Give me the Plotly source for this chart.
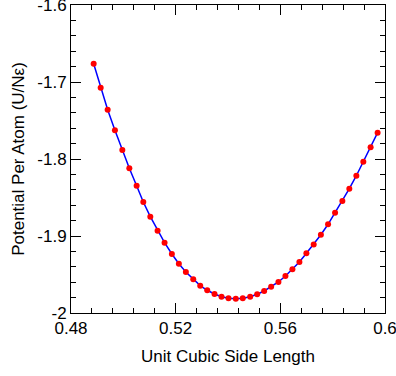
import plotly.graph_objects as go

side_length = [0.48866, 0.49134, 0.49401, 0.49679, 0.49962, 0.50229, 0.50508, 0.50763,
               0.51031, 0.51309, 0.51576, 0.51855, 0.52122, 0.52389, 0.52672, 0.52939,
               0.53206, 0.53485, 0.53752, 0.54019, 0.54298, 0.54565, 0.54847, 0.55115,
               0.55382, 0.55649, 0.55927, 0.56195, 0.56462, 0.56729, 0.56996, 0.57275,
               0.57550, 0.57824, 0.58092, 0.58370, 0.58637, 0.58905, 0.59172, 0.59450,
               0.59718]
potential = [-1.6762, -1.7074, -1.7360, -1.7627, -1.7883, -1.8121, -1.8347, -1.8558,
             -1.8749, -1.8931, -1.9087, -1.9234, -1.9360, -1.9468, -1.9562, -1.9645,
             -1.9705, -1.9753, -1.9788, -1.9809, -1.9814, -1.9809, -1.9788, -1.9757,
             -1.9714, -1.9658, -1.9597, -1.9519, -1.9432, -1.9338, -1.9225, -1.9110,
             -1.8983, -1.8848, -1.8697, -1.8545, -1.8386, -1.8217, -1.8035, -1.7848,
             -1.7658]

x_tick_vals = [0.48, 0.52, 0.56, 0.6]
x_tick_text = ["0.48", "0.52", "0.56", "0.6"]
y_tick_vals = [-2.0, -1.9, -1.8, -1.7, -1.6]
y_tick_text = ["-2", "-1.9", "-1.8", "-1.7", "-1.6"]

FONT = "Liberation Sans, Arial, Helvetica, sans-serif"

fig = go.Figure()
fig.add_trace(go.Scatter(
    x=side_length, y=potential, mode="lines+markers",
    line=dict(color="#0000ff", width=1.5),
    marker=dict(color="#ff0000", size=6),
    showlegend=False,
))

axis_common = dict(
    showline=True, linecolor="black", linewidth=1, mirror="ticks",
    ticks="inside", ticklen=10, tickwidth=1, tickcolor="black",
    showgrid=False, zeroline=False, automargin=False,
    ticklabeloverflow="allow",
    tickfont=dict(family=FONT, size=17, color="black"),
)

fig.update_xaxes(
    range=[0.48, 0.6], tickvals=x_tick_vals, ticktext=x_tick_text,
    minor=dict(dtick=0.008, tick0=0.48, ticks="inside", ticklen=5, tickcolor="black", tickwidth=1),
    title=dict(text="Unit Cubic Side Length", standoff=12,
               font=dict(family=FONT, size=17, color="black")),
    **axis_common,
)
fig.update_yaxes(
    range=[-2.0, -1.6], tickvals=y_tick_vals, ticktext=y_tick_text,
    minor=dict(dtick=0.02, tick0=-2.0, ticks="inside", ticklen=5, tickcolor="black", tickwidth=1),
    title=dict(text="Potential Per Atom (U/Nε)", standoff=8,
               font=dict(family=FONT, size=17, color="black")),
    **axis_common,
)

fig.update_layout(
    width=396, height=376,
    margin=dict(l=71, r=11, t=5, b=63),
    paper_bgcolor="white", plot_bgcolor="white",
)

fig.write_html("out.html")
